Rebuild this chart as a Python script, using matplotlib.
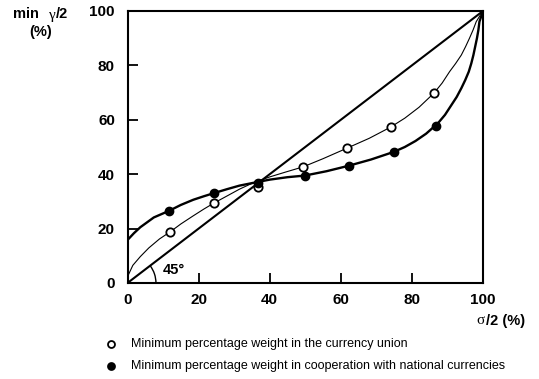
import matplotlib
matplotlib.use("Agg")
import matplotlib.pyplot as plt
from matplotlib.patches import Arc

# ---- data ----
xticks = [0, 20, 40, 60, 80, 100]
yticks = [0, 20, 40, 60, 80, 100]

# marker points
union_x = [12.0, 24.2, 36.7, 49.4, 61.8, 74.0, 86.2]
union_y = [18.8, 29.4, 35.2, 42.7, 49.6, 57.3, 69.8]
coop_x = [11.8, 24.2, 36.6, 49.9, 62.2, 74.9, 86.9]
coop_y = [26.6, 33.0, 36.8, 39.5, 43.1, 48.2, 57.8]

# curves
union_curve_x = [0, 1.5, 3.6, 6, 9, 12.0, 15, 18.5, 21.5, 24.2, 28, 31.5, 35.3,
                 40, 44.5, 49.4, 55, 61.8, 68, 74.0, 78, 82, 86.2, 88.5, 90.6, 92.3,
                 93.9, 95.1, 96.2, 97.2, 98.1, 99.1, 100]
union_curve_y = [2.3, 6.5, 9.7, 12.9, 16.2, 18.8, 21.7, 24.7, 27.2, 29.3, 32.0, 34.5, 36.8,
                 39.0, 40.8, 42.7, 45.7, 49.6, 53.2, 57.3, 60.6, 64.6, 69.8, 73.5, 77.7, 80.7,
                 83.8, 86.9, 90.0, 93.0, 96.1, 98.2, 100]
coop_curve_x = [0, 1.8, 3.6, 7.4, 11.8, 15, 18.5, 21.5, 24.2, 28, 31.5, 35.3,
                40, 45, 49.9, 56, 62.2, 68.5, 74.9, 78, 81, 84, 87.3, 89.3, 91.1, 92.6,
                93.9, 95.0, 96.0, 96.7, 97.3, 97.8, 98.3, 98.7, 99.0, 99.5, 100]
coop_curve_y = [15.8, 18.3, 20.5, 24.1, 26.6, 28.7, 30.6, 31.9, 33.0, 34.5, 35.8, 36.8,
                38.0, 38.9, 39.5, 41.1, 43.1, 45.4, 48.2, 50.0, 52.2, 54.9, 58.7, 61.8, 65.4, 68.4,
                71.6, 74.6, 77.7, 80.7, 83.8, 86.9, 90.0, 93.0, 96.1, 98.0, 100]

diag = [0, 100]

legend_labels = ["Minimum percentage weight in the currency union",
                 "Minimum percentage weight in cooperation with national currencies"]

# ---- figure ----
W, H = 539, 379
fig = plt.figure(figsize=(W / 100, H / 100), dpi=100)
ax = fig.add_axes([127.5 / W, 1 - 283 / H, (483 - 127.5) / W, (283 - 11) / H])

SANS = "Liberation Sans"
SERIF = "Liberation Serif"

ax.plot(diag, diag, color="black", lw=1.5, solid_capstyle="butt")
ax.plot(union_curve_x, union_curve_y, color="black", lw=0.8, solid_joinstyle="round")
ax.plot(coop_curve_x, coop_curve_y, color="black", lw=1.7, solid_joinstyle="round")
ax.plot(union_x, union_y, "o", ms=6, mfc="white", mec="black", mew=1.3, zorder=5)
ax.plot(coop_x, coop_y, "o", ms=6, mfc="black", mec="black", mew=1.0, zorder=5)

ax.add_patch(Arc((0, 0), 2 * 8.0, 2 * 10.5, theta1=0, theta2=45, color="black", lw=1.0))
ax.text(10, 4.8, "45°", fontfamily=SANS, fontweight="bold", fontsize=10.5,
        ha="left", va="center")

ax.set_xlim(0, 100)
ax.set_ylim(0, 100)
ax.set_xticks(xticks)
ax.set_yticks(yticks)
ax.set_xticklabels([str(v) for v in xticks])
ax.set_yticklabels([str(v) for v in yticks])
ax.tick_params(direction="in", length=7, width=1.3, labelsize=11, pad=7)
ax.tick_params(axis="y", pad=9)
for lab in ax.get_xticklabels() + ax.get_yticklabels():
    lab.set_fontfamily(SANS)
    lab.set_fontweight("bold")
for s in ax.spines.values():
    s.set_linewidth(1.5)

# y-axis label (top-left)
fig.text(13 / W, 1 - 14 / H, "min", fontfamily=SANS, fontweight="bold", fontsize=10.5,
         ha="left", va="center")
fig.text(49 / W, 1 - 15 / H, "γ", fontfamily=SERIF, fontsize=11,
         ha="left", va="center")
fig.text(56 / W, 1 - 14 / H, "/2", fontfamily=SANS, fontweight="bold", fontsize=10.5,
         ha="left", va="center")
fig.text(29 / W, 1 - 32 / H, "(%)", fontfamily=SANS, fontweight="bold", fontsize=10.5,
         ha="left", va="center")

# x-axis label (bottom-right)
fig.text(476 / W, 1 - 321 / H, "σ", fontfamily=SERIF, fontsize=11,
         ha="left", va="center")
fig.text(485.5 / W, 1 - 321 / H, "/2 (%)", fontfamily=SANS, fontweight="bold", fontsize=10.5,
         ha="left", va="center")

# legend lines
rows = [(344, "white"), (366, "black")]
for (py, fc), lab in zip(rows, legend_labels):
    fig.lines.append(plt.Line2D([110.5 / W], [1 - py / H], marker="o", ms=5,
                                mfc=fc, mec="black", mew=1.3,
                                transform=fig.transFigure, figure=fig))
    fig.text(131 / W, 1 - py / H, lab, fontfamily=SANS, fontsize=9,
             ha="left", va="center")

fig.savefig("out.png", dpi=100)
